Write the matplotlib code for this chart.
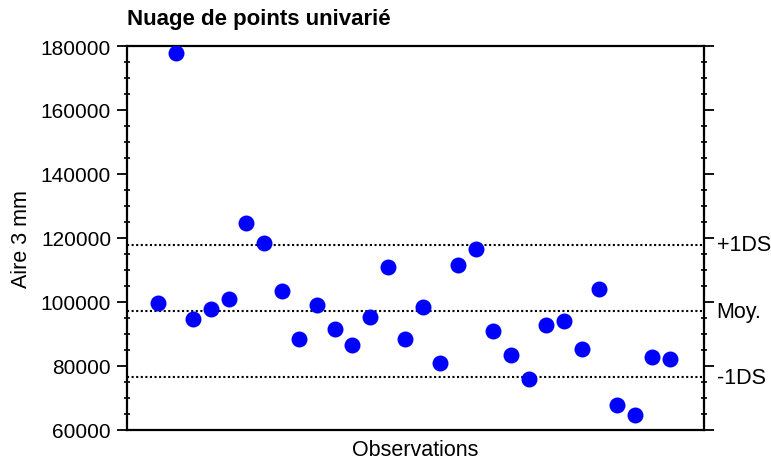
import matplotlib
matplotlib.use("Agg")
import matplotlib.pyplot as plt
from matplotlib.ticker import MultipleLocator

plt.rcParams['font.family'] = ['Liberation Sans', 'DejaVu Sans']

observations = list(range(1, 31))
aire_3mm = [99700, 177800, 94700, 97800, 100900, 124700, 118400, 103400, 88400, 99100,
            91600, 86600, 95300, 110900, 88400, 98400, 80900, 111600, 116600, 90900,
            83400, 75900, 92800, 94100, 85300, 104100, 67800, 64700, 82800, 82200]
mean_value = 97100
sd_value = 20700
ref_labels = ['+1DS', 'Moy.', '-1DS']
ref_values = [mean_value + sd_value, mean_value, mean_value - sd_value]
y_ticks = [60000, 80000, 100000, 120000, 140000, 160000, 180000]

fig = plt.figure(figsize=(7.71, 4.64), dpi=100)
ax = fig.add_axes([127/771, 1 - 430.7/464, (704 - 127)/771, (430.7 - 47)/464])

for v in ref_values:
    ax.axhline(v, color='black', linestyle=(0, (1, 1.2)), linewidth=1.5, zorder=1)

ax.plot(observations, aire_3mm, 'o', color='#0000ff', markersize=11.5,
        markeredgewidth=0, zorder=3)

ax.set_xlim(1 - 1.76, 30 + 1.93)
ax.set_ylim(60000, 180000)
ax.set_yticks(y_ticks)
ax.set_yticklabels([str(t) for t in y_ticks])
ax.yaxis.set_minor_locator(MultipleLocator(5000))
ax.set_xticks([])

ax.tick_params(axis='y', which='major', direction='out', length=7.5, width=1.3,
               labelsize=15, pad=4, right=True, left=True)
ax.tick_params(axis='y', which='minor', direction='inout', length=4, width=1.2,
               right=True, left=True)

for s in ax.spines.values():
    s.set_linewidth(1.6)
    s.set_color('black')

ax.set_ylabel('Aire 3 mm', fontsize=15.5, labelpad=6)
ax.set_xlabel('Observations', fontsize=15.5, labelpad=7)

for lab, v in zip(ref_labels, ref_values):
    ax.annotate(lab, xy=(1, v), xycoords=('axes fraction', 'data'),
                xytext=(9, 0), textcoords='offset points',
                ha='left', va='center', fontsize=15.5)

fig.text(127/771, 1 - 20/464, 'Nuage de points univarié', fontsize=16,
         fontweight='bold', ha='left', va='center')

fig.savefig('out.png', dpi=100)
